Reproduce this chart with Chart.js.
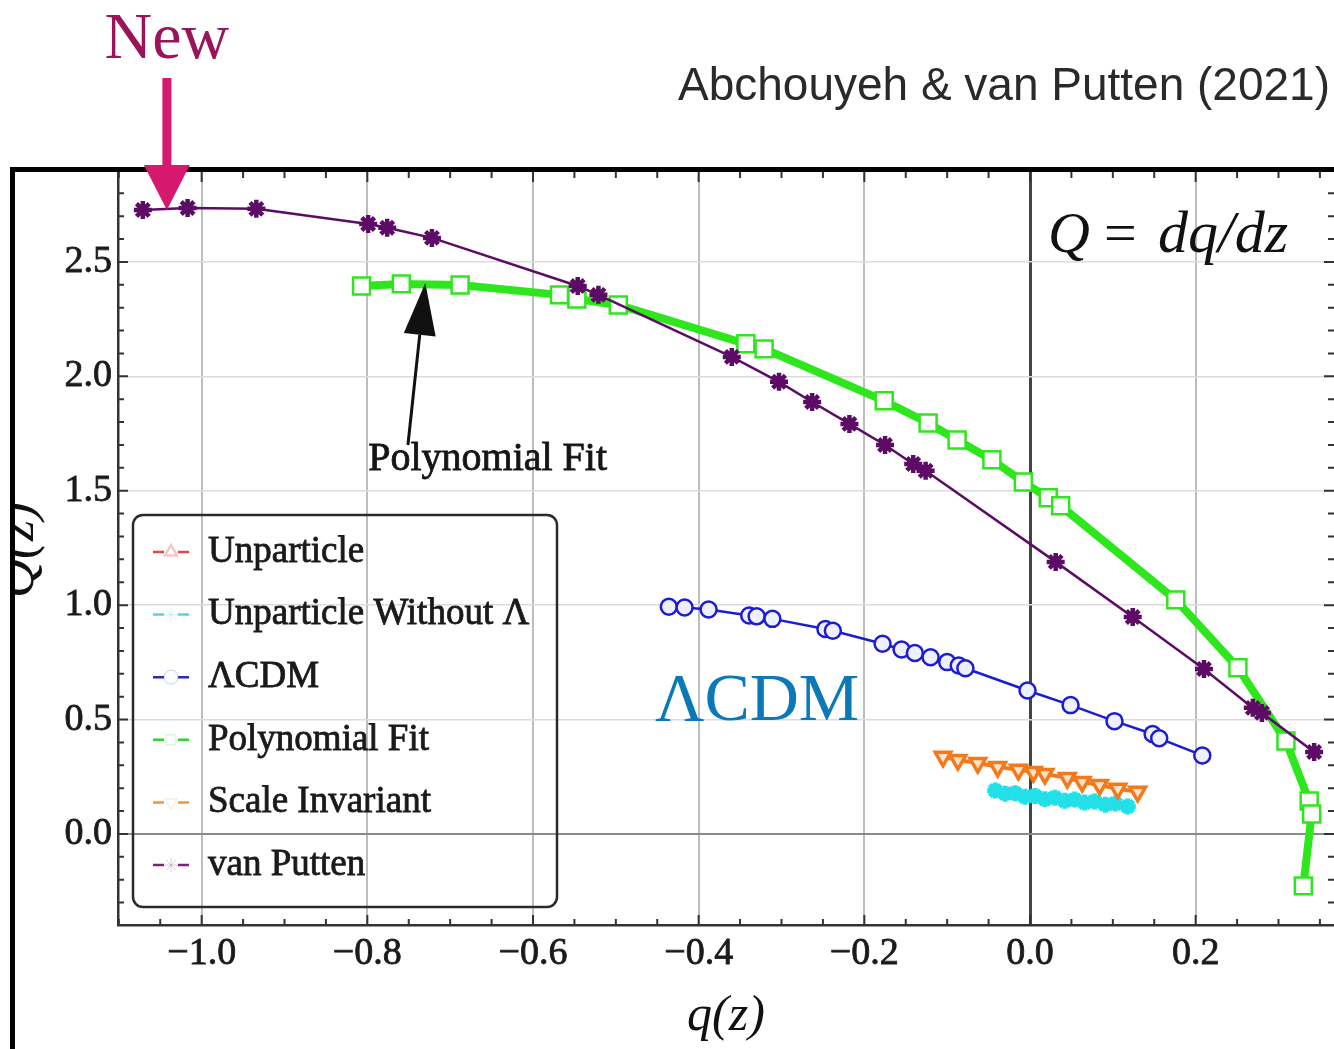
<!DOCTYPE html>
<html>
<head>
<meta charset="utf-8">
<script src="https://cdn.jsdelivr.net/npm/chart.js@4.4.1/dist/chart.umd.min.js"></script>
<style>
  html, body { margin: 0; padding: 0; background: #fff; }
  #wrap { position: relative; width: 1334px; height: 1049px; }
</style>
</head>
<body>
<div id="wrap"><canvas id="chart" width="1334" height="1049"></canvas></div>
<script>
// axis ticks
const xTicks = [-1.0, -0.8, -0.6, -0.4, -0.2, 0.0, 0.2];
const yTicks = [0.0, 0.5, 1.0, 1.5, 2.0, 2.5];

// series: q(z) and Q(z) = dq/dz
const unparticleQ = [];
const unparticleDQ = [];

const unpNoLambdaQ = [-0.042, -0.030, -0.018, -0.006, 0.006, 0.018, 0.030, 0.042, 0.054, 0.066, 0.078, 0.091, 0.103, 0.118];
const unpNoLambdaDQ = [0.190, 0.176, 0.178, 0.163, 0.166, 0.152, 0.158, 0.145, 0.150, 0.137, 0.142, 0.128, 0.133, 0.120];

const lcdmQ = [-0.436, -0.417, -0.388, -0.339, -0.330, -0.311, -0.247, -0.238, -0.178, -0.155, -0.139, -0.120, -0.100, -0.086, -0.078, -0.003, 0.049, 0.102, 0.148, 0.156, 0.208];
const lcdmDQ = [0.993, 0.990, 0.981, 0.955, 0.951, 0.940, 0.896, 0.888, 0.831, 0.806, 0.791, 0.772, 0.751, 0.736, 0.724, 0.627, 0.563, 0.493, 0.437, 0.418, 0.343];

const polyQ = [-0.807, -0.759, -0.688, -0.568, -0.547, -0.497, -0.343, -0.321, -0.176, -0.123, -0.088, -0.046, -0.008, 0.022, 0.037, 0.176, 0.251, 0.309, 0.337, 0.340, 0.330];
const polyDQ = [2.395, 2.404, 2.399, 2.356, 2.338, 2.312, 2.142, 2.120, 1.893, 1.796, 1.722, 1.635, 1.538, 1.469, 1.434, 1.023, 0.726, 0.406, 0.144, 0.087, -0.227];

const scaleInvQ = [-0.105, -0.087, -0.063, -0.039, -0.014, 0.004, 0.018, 0.045, 0.063, 0.084, 0.106, 0.130];
const scaleInvDQ = [0.337, 0.323, 0.310, 0.293, 0.280, 0.271, 0.262, 0.245, 0.227, 0.214, 0.197, 0.184];

const vanPuttenQ = [-1.071, -1.017, -0.934, -0.799, -0.776, -0.722, -0.546, -0.521, -0.360, -0.303, -0.263, -0.218, -0.175, -0.141, -0.126, 0.031, 0.124, 0.210, 0.269, 0.280, 0.343];
const vanPuttenDQ = [2.727, 2.736, 2.732, 2.666, 2.649, 2.605, 2.395, 2.356, 2.085, 1.976, 1.888, 1.792, 1.700, 1.617, 1.587, 1.189, 0.948, 0.721, 0.551, 0.529, 0.358];

const pts = (xs, ys) => xs.map((x, i) => ({ x: x, y: ys[i] }));
const fmt = v => (v < 0 ? '\u2212' : '') + Math.abs(v).toFixed(1);
const SERIF = '"Liberation Serif", "DejaVu Serif", serif';

const datasets = [
  { label: 'Unparticle', data: pts(unparticleQ, unparticleDQ), borderColor: '#e03a3a', backgroundColor: '#fbe0e0',
    borderWidth: 2, pointStyle: 'triangle', pointRadius: 7, order: 5 },
  { label: 'Unparticle Without \u039B', data: pts(unpNoLambdaQ, unpNoLambdaDQ), borderColor: '#22dfe8', backgroundColor: '#22dfe8',
    borderWidth: 4, pointStyle: 'star', pointRadius: 8, pointBorderWidth: 5, order: 4 },
  { label: '\u039BCDM', data: pts(lcdmQ, lcdmDQ), borderColor: '#1c1cd2', backgroundColor: '#eef0ff',
    borderWidth: 2.5, pointStyle: 'circle', pointRadius: 8, pointBorderWidth: 2.5, order: 2 },
  { label: 'Polynomial Fit', data: pts(polyQ, polyDQ), borderColor: '#2ee61c', backgroundColor: '#ffffff',
    borderWidth: 8, pointStyle: 'rect', pointRadius: 12, pointBorderWidth: 2.5, order: 1 },
  { label: 'Scale Invariant', data: pts(scaleInvQ, scaleInvDQ), borderColor: '#f27a1e', backgroundColor: '#fde2c8',
    borderWidth: 4, pointStyle: 'triangle', pointRotation: 180, pointRadius: 9, pointBorderWidth: 3.5, order: 3 },
  { label: 'van Putten', data: pts(vanPuttenQ, vanPuttenDQ), borderColor: '#5c0c64', backgroundColor: '#5c0c64',
    borderWidth: 2.5, pointStyle: 'star', pointRadius: 9, pointBorderWidth: 4.5, order: 0 }
];

const legendColors = ['#e04848', '#4fd6e0', '#2a2ab4', '#2ed42e', '#e8964a', '#7c2474'];

function arrow(c, x1, y1, x2, y2, headLen, headW, color, lw) {
  const ang = Math.atan2(y2 - y1, x2 - x1);
  const bx = x2 - headLen * Math.cos(ang), by = y2 - headLen * Math.sin(ang);
  c.strokeStyle = color; c.fillStyle = color; c.lineWidth = lw;
  c.beginPath(); c.moveTo(x1, y1); c.lineTo(bx, by); c.stroke();
  c.beginPath();
  c.moveTo(x2, y2);
  c.lineTo(bx + headW / 2 * Math.sin(ang), by - headW / 2 * Math.cos(ang));
  c.lineTo(bx - headW / 2 * Math.sin(ang), by + headW / 2 * Math.cos(ang));
  c.closePath(); c.fill();
}

// filled text with a thin outline so it reads as heavy as the scanned figure
function boldText(c, txt, x, y, color, sw) {
  c.fillStyle = color; c.strokeStyle = color; c.lineWidth = sw;
  c.fillText(txt, x, y);
  c.strokeText(txt, x, y);
}

const deco = {
  id: 'deco',
  beforeDraw(chart) {
    const c = chart.ctx;
    c.save(); c.fillStyle = '#fff'; c.fillRect(0, 0, chart.width, chart.height); c.restore();
  },
  afterDraw(chart) {
    const c = chart.ctx, xs = chart.scales.x, ys = chart.scales.y, a = chart.chartArea;
    c.save();

    // minor ticks on all four sides
    c.strokeStyle = '#333'; c.lineWidth = 2;
    for (let i = -22; i <= 7; i++) {
      const px = xs.getPixelForValue(i * 0.05);
      if (px < a.left || px > a.right) continue;
      const len = i % 4 === 0 ? 10 : 6;
      c.beginPath();
      c.moveTo(px, a.bottom); c.lineTo(px, a.bottom - len);
      c.moveTo(px, a.top); c.lineTo(px, a.top + len);
      c.stroke();
    }
    for (let i = -3; i <= 28; i++) {
      const py = ys.getPixelForValue(i * 0.1);
      if (py < a.top || py > a.bottom) continue;
      const len = i % 5 === 0 ? 10 : 6;
      c.beginPath();
      c.moveTo(a.left, py); c.lineTo(a.left + len, py);
      c.moveTo(a.right, py); c.lineTo(a.right - len, py);
      c.stroke();
    }

    // y-axis title, mostly hidden behind the slide frame
    c.save();
    c.beginPath(); c.rect(15, 172, 40, 700); c.clip();
    c.translate(33, 550); c.rotate(-Math.PI / 2);
    c.font = 'italic 54px ' + SERIF; c.fillStyle = '#111';
    c.textAlign = 'center'; c.textBaseline = 'alphabetic';
    c.fillText('Q(z)', 0, 0);
    c.restore();

    // slide frame
    c.fillStyle = '#000';
    c.fillRect(10, 167, chart.width - 10, 5);
    c.fillRect(10, 167, 5, chart.height - 167);

    // legend box
    const L = { x: 133, y: 515, w: 424, h: 392 };
    c.strokeStyle = '#2a2a2a'; c.lineWidth = 2.5;
    c.beginPath(); c.roundRect(L.x, L.y, L.w, L.h, 10); c.stroke();
    c.font = '37px ' + SERIF; c.textBaseline = 'middle'; c.textAlign = 'left';
    chart.data.datasets.forEach((ds, i) => {
      const cy = 552 + i * 62.6;
      const col = legendColors[i];
      c.save();
      c.strokeStyle = col; c.lineWidth = 2.5; c.setLineDash([11, 14]);
      c.beginPath(); c.moveTo(153, cy); c.lineTo(189, cy); c.stroke();
      c.restore();
      c.save();
      c.globalAlpha = 0.3;
      c.strokeStyle = col; c.fillStyle = '#fff';
      Chart.helpers.drawPoint(c, {
        pointStyle: ds.pointStyle, rotation: ds.pointRotation || 0, radius: 7, borderWidth: 1.5
      }, 171, cy);
      c.restore();
      boldText(c, ds.label, 208, cy, '#1a1a1a', 0.8);
    });

    // "Polynomial Fit" callout
    const tipX = xs.getPixelForValue(-0.730), tipY = ys.getPixelForValue(2.408);
    const tailX = xs.getPixelForValue(-0.751), tailY = ys.getPixelForValue(1.700);
    arrow(c, tailX, tailY, tipX, tipY, 52, 32, '#111', 3);
    c.font = '40px ' + SERIF; c.textBaseline = 'alphabetic';
    boldText(c, 'Polynomial Fit', xs.getPixelForValue(-0.799), ys.getPixelForValue(1.591), '#151515', 0.8);

    // ΛCDM label
    c.fillStyle = '#0b78b8'; c.font = '68px ' + SERIF;
    c.fillText('\u039BCDM', xs.getPixelForValue(-0.4526), ys.getPixelForValue(0.498), 205);

    // Q = dq/dz
    const qx = xs.getPixelForValue(0.0217), qy = ys.getPixelForValue(2.544);
    c.fillStyle = '#111';
    c.font = 'italic 58px ' + SERIF;
    c.fillText('Q', qx, qy);
    c.font = 'italic 60px ' + SERIF;
    c.fillText('dq/dz', qx + 110, qy, 136);
    c.font = '58px ' + SERIF;
    c.fillText('=', qx + 56, qy);

    // header: New + arrow, citation
    const nx = xs.getPixelForValue(-1.042);
    c.fillStyle = '#9a145a'; c.font = '66px ' + SERIF; c.textAlign = 'center';
    c.fillText('New', nx, 58, 128);
    arrow(c, nx, 78, nx, 210, 45, 46, '#d6186f', 9);
    c.fillStyle = '#2a2a2a'; c.font = '46px "Liberation Sans", Arial, sans-serif'; c.textAlign = 'left';
    c.fillText('Abchouyeh & van Putten (2021)', 678, 100, 652);

    c.restore();
  }
};

new Chart(document.getElementById('chart').getContext('2d'), {
  type: 'line',
  data: { datasets: datasets },
  options: {
    responsive: false,
    animation: false,
    layout: { autoPadding: false, padding: { top: 172, left: 0, right: 0, bottom: 0 } },
    elements: { line: { tension: 0 } },
    plugins: { legend: { display: false }, tooltip: { enabled: false } },
    scales: {
      x: {
        type: 'linear', min: -1.101, max: 0.367,
        afterBuildTicks: s => { s.ticks = xTicks.map(v => ({ value: v })); },
        afterFit: s => { s.height = 124; },
        ticks: { callback: v => fmt(v), font: { family: SERIF, size: 38 }, color: '#1a1a1a', padding: 6, maxRotation: 0,
                 textStrokeColor: '#1a1a1a', textStrokeWidth: 0.8 },
        grid: {
          drawTicks: false,
          color: c => (c.tick && c.tick.value === 0) ? '#444' : '#bdbdbd',
          lineWidth: c => (c.tick && c.tick.value === 0) ? 3 : 2
        },
        border: { display: true, color: '#333', width: 2.5 },
        title: { display: true, text: 'q(z)', font: { family: SERIF, size: 50, style: 'italic' }, color: '#111', padding: { top: 0, bottom: 2 } }
      },
      y: {
        type: 'linear', min: -0.398, max: 2.893,
        afterBuildTicks: s => { s.ticks = yTicks.map(v => ({ value: v })); },
        afterFit: s => { s.width = 118; },
        ticks: { callback: v => fmt(v), font: { family: SERIF, size: 38 }, color: '#1a1a1a', padding: 6,
                 textStrokeColor: '#1a1a1a', textStrokeWidth: 0.8 },
        grid: {
          drawTicks: false,
          color: c => (c.tick && c.tick.value === 0) ? '#8a8a8a' : '#dcdcdc',
          lineWidth: c => (c.tick && c.tick.value === 0) ? 2 : 1.5
        },
        border: { display: true, color: '#333', width: 2.5 }
      }
    }
  },
  plugins: [deco]
});
</script>
</body>
</html>
